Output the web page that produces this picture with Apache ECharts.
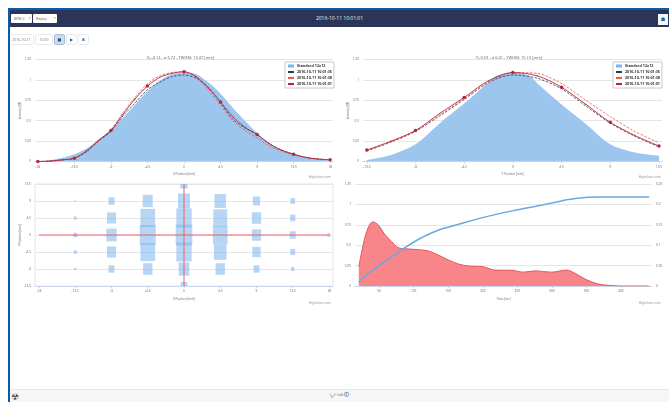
<!DOCTYPE html>
<html>
<head>
<meta charset="utf-8">
<title>2016-10-11 10:01:01</title>
<script src="https://cdn.jsdelivr.net/npm/echarts@6/dist/echarts.min.js"></script>
<style>
    html, body { margin: 0; padding: 0; background: #fff; overflow: hidden; }
    body { width: 669px; height: 402px; position: relative; font-family: "Open Sans", "Liberation Sans", sans-serif; }
    #chart { position: absolute; left: 0; top: 0; width: 669px; height: 402px; }
    .frame-top { position: absolute; left: 8px; top: 8px; right: 0; height: 2px; background: #0b5bab; }
    .frame-left { position: absolute; left: 8px; top: 8px; bottom: 0; width: 2px; background: #0b5bab; }
    .navbar { position: absolute; left: 10px; top: 10px; right: 0; height: 17px; background: #2a3557; }
    .navbar .title { position: absolute; left: 0; right: 0; top: 3px; text-align: center; color: #eef0f4; font-size: 5px; line-height: 10px; }
    .select { position: absolute; top: 4px; height: 9px; background: #fff; border-radius: 1px; color: #666; font-size: 3.5px; line-height: 9px; padding-left: 3px; box-sizing: border-box; }
    .select i { position: absolute; right: 1px; font-style: normal; font-size: 3px; }
    .home { position: absolute; right: 1px; top: 4px; width: 10px; height: 11px; background: #f4f6f8; color: #1c5f9e; font-family: "DejaVu Sans", sans-serif; font-size: 5px; line-height: 11px; text-align: center; }
    .ctrl { position: absolute; top: 34px; height: 11px; box-sizing: border-box; border: 1px solid #e8eaee; border-radius: 2px; font-size: 3.5px; line-height: 9px; color: #777; text-align: center; background: #fff; white-space: nowrap; overflow: hidden; }
    .ctrl.on { background: #cfdcec; border-color: #a9bed6; }
    .ctrl.btn { color: #23527c; font-size: 4px; font-family: "DejaVu Sans", sans-serif; }
    .footer { position: absolute; left: 10px; right: 0; top: 389px; bottom: 0; background: #f6f6f6; border-top: 1px solid #e7e7e7; }
    .footer .txt { position: absolute; left: 0; right: 0; top: 0; text-align: center; font-size: 3.6px; line-height: 8px; color: #777; }
    .footer .txt b { color: #1c6fb5; font-size: 5px; }
    .footer .rad { position: absolute; left: 0; top: 2px; width: 9px; text-align: center; font-size: 9px; line-height: 10px; color: #444; }
</style>
</head>
<body>
<div id="chart"></div>
<div class="frame-top"></div>
<div class="frame-left"></div>
<div class="navbar">
    <div class="select" style="left:1px;width:21px">BPM 2<i>&#9662;</i></div>
    <div class="select" style="left:23px;width:24px">Replay<i>&#9662;</i></div>
    <div class="title">2016-10-11 10:01:01</div>
    <div class="home">&#9751;</div>
</div>
<div class="ctrl" style="left:10px;width:24px;border-left:0">2016-10-11</div>
<div class="ctrl" style="left:35px;width:18px">10:00</div>
<div class="ctrl btn on" style="left:54px;width:11px">&#9632;</div>
<div class="ctrl btn" style="left:66px;width:11px">&#9654;</div>
<div class="ctrl btn" style="left:78px;width:11px">&#10006;</div>
<div class="footer">
    <div class="rad">&#9762;</div>
    <div class="txt">I<sub style="font-size:3px">N</sub> E (nA) <b>&#9432;</b></div>
</div>
<script>
const standardName = 'Standard 12x12';
const timeA = '2016-10-11 10:01:35';
const timeB = '2016-10-11 10:01:38';
const timeC = '2016-10-11 10:01:01';

// top left, X profile
const xStandard = [[-18,0],[-16.5,0.015],[-15,0.045],[-13.5,0.09],[-12,0.16],[-10.5,0.27],[-9,0.39],[-7.5,0.54],[-6,0.7],[-4.5,0.86],[-3,0.99],[-1.5,1.07],[0,1.09],[1.5,1.07],[3,0.97],[4.5,0.83],[6,0.66],[7.5,0.5],[9,0.35],[10.5,0.22],[12,0.14],[13.5,0.09],[15,0.05],[16.5,0.025],[18,0.01]];
const xSeriesA = [[-18,0],[-16.5,0.005],[-15,0.02],[-13.5,0.04],[-12,0.12],[-10.5,0.25],[-9,0.37],[-7.5,0.56],[-6,0.72],[-4.5,0.88],[-3,0.97],[-1.5,1.04],[0,1.06],[1.5,1.02],[3,0.91],[4.5,0.72],[6,0.52],[7.5,0.41],[9,0.33],[10.5,0.22],[12,0.14],[13.5,0.09],[15,0.05],[16.5,0.03],[18,0.02]];
const xSeriesB = [[-18,0],[-16.5,0.005],[-15,0.02],[-13.5,0.04],[-12,0.13],[-10.5,0.26],[-9,0.39],[-7.5,0.6],[-6,0.79],[-4.5,0.95],[-3,1.05],[-1.5,1.09],[0,1.1],[1.5,1.03],[3,0.87],[4.5,0.69],[6,0.5],[7.5,0.38],[9,0.29],[10.5,0.19],[12,0.13],[13.5,0.08],[15,0.05],[16.5,0.03],[18,0.02]];
const xSeriesC = [[-18,0],[-16.5,0.005],[-15,0.02],[-13.5,0.04],[-12,0.13],[-10.5,0.26],[-9,0.38],[-7.5,0.58],[-6,0.77],[-4.5,0.925],[-3,1.03],[-1.5,1.08],[0,1.1],[1.5,1.04],[3,0.9],[4.5,0.73],[6,0.55],[7.5,0.42],[9,0.33],[10.5,0.22],[12,0.14],[13.5,0.09],[15,0.05],[16.5,0.03],[18,0.02]];

// top right, Y profile
const yStandard = [[-13.5,0.02],[-11.25,0.08],[-9,0.21],[-6.75,0.47],[-4.5,0.71],[-2.25,0.97],[-1.5,1.05],[0,1.09],[1.5,1.05],[2.25,0.96],[4.5,0.7],[6.75,0.46],[9,0.21],[11.25,0.11],[13.5,0.07]];
const ySeriesA = [[-13.5,0.13],[-11.25,0.24],[-9,0.37],[-6.75,0.56],[-4.5,0.76],[-2.25,0.97],[0,1.06],[2.25,1.02],[4.5,0.89],[6.75,0.68],[9,0.47],[11.25,0.31],[13.5,0.18]];
const ySeriesB = [[-13.5,0.13],[-11.25,0.24],[-9,0.37],[-6.75,0.57],[-4.5,0.77],[-2.25,0.97],[0,1.09],[2.25,1.08],[4.5,0.955],[6.75,0.75],[9,0.55],[11.25,0.37],[13.5,0.23]];
const ySeriesC = [[-13.5,0.14],[-11.25,0.25],[-9,0.38],[-6.75,0.59],[-4.5,0.785],[-2.25,0.99],[0,1.09],[2.25,1.05],[4.5,0.91],[6.75,0.7],[9,0.48],[11.25,0.32],[13.5,0.19]];

// bottom left, beam cells: x, y, intensity
const cells = [
    [-13.5,9,4],[-13.5,4.5,8],[-13.5,0,11],[-13.5,-4.5,9],[-13.5,-9,6],
    [-9,9,18],[-9,4.5,27],[-9,0,31],[-9,-4.5,27],[-9,-9,18],
    [-4.5,9,30],[-4.5,4.5,44],[-4.5,0,48],[-4.5,-4.5,44],[-4.5,-9,28],
    [0,13.5,22],[0,9,36],[0,4.5,46],[0,0,50],[0,-4.5,46],[0,-9,32],[0,-13.5,20],
    [4.5,9,34],[4.5,4.5,42],[4.5,0,44],[4.5,-4.5,38],[4.5,-9,28],
    [9,9,22],[9,4.5,28],[9,0,28],[9,-4.5,25],[9,-9,18],
    [13.5,9,14],[13.5,4.5,16],[13.5,0,18],[13.5,-4.5,15],[13.5,-9,10],
    [18,0,9]
];
const crossH = [[-18,0],[18,0]];
const crossV = [[0,13.5],[0,-13.5]];

// bottom right, time traces
const integralTrace = [[20.5,0.045],[34,0.156],[58,0.3],[82,0.44],[106.5,0.57],[130.7,0.668],[145,0.71],[179,0.79],[203,0.844],[227,0.893],[251,0.934],[275.6,0.975],[300,1.016],[324,1.06],[348,1.086],[372,1.09],[400,1.09],[441,1.09]];
const currentTrace = [[20.5,0.0475],[29,0.117],[36,0.15],[41,0.157],[48.5,0.15],[58,0.127],[68,0.109],[77.5,0.094],[90,0.091],[106.5,0.089],[121,0.086],[135.5,0.076],[150,0.064],[164.5,0.054],[179,0.049],[200.7,0.047],[217.6,0.039],[242,0.0385],[258.7,0.034],[275.6,0.037],[300,0.034],[321.5,0.039],[333.6,0.031],[348,0.017],[367,0.005],[386.7,0.001],[400,0],[441,0]];

const xTicks = [-18, -13.5, -9, -4.5, 0, 4.5, 9, 13.5, 18];
const timeTicks = [50, 100, 150, 200, 250, 300, 350, 400];

const labelStyle = { fontSize: 3.2, color: '#666', margin: 4 };
const nameStyle = { fontSize: 3, color: '#666' };
const gridLine = { show: true, lineStyle: { color: '#e6e6e6', width: 1 } };
const axisLine = { show: true, lineStyle: { color: '#ccd6eb', width: 1 } };

function bottomAxis(gridIndex, min, max, ticks, title) {
    return {
        type: 'value', gridIndex, min, max,
        name: title, nameLocation: 'middle', nameGap: 11.5, nameMoveOverlap: false,
        nameTextStyle: nameStyle,
        axisLabel: { ...labelStyle, customValues: ticks },
        axisTick: { show: true, length: 2, lineStyle: { color: '#ccd6eb' }, customValues: ticks },
        axisLine: { ...axisLine, onZero: false },
        splitLine: { show: false }
    };
}

function leftAxis(gridIndex, title) {
    return {
        type: 'value', gridIndex, min: 0, max: 1.25, interval: 0.25,
        name: title, nameLocation: 'middle', nameGap: 13, nameRotate: 90, nameMoveOverlap: false,
        nameTextStyle: nameStyle,
        axisLabel: { ...labelStyle },
        axisTick: { show: false },
        axisLine: { show: false },
        splitLine: gridLine
    };
}

function profileSeries(index, standard, a, b, c) {
    const keyPoint = v => Math.abs(v / 4.5 - Math.round(v / 4.5)) < 0.001;
    return [
        {
            name: standardName, type: 'line', xAxisIndex: index, yAxisIndex: index, data: standard,
            smooth: 0.3, symbol: 'none', lineStyle: { width: 0 }, itemStyle: { color: '#7cb5ec' },
            areaStyle: { color: '#9dc6ef', opacity: 1 }
        },
        {
            name: timeA, type: 'line', xAxisIndex: index, yAxisIndex: index, data: a,
            smooth: 0.3, symbol: 'none', itemStyle: { color: '#2b3a55' },
            lineStyle: { color: '#2b3a55', width: 0.8, type: [2.5, 1.5] }
        },
        {
            name: timeB, type: 'line', xAxisIndex: index, yAxisIndex: index, data: b,
            smooth: 0.3, symbol: 'none', itemStyle: { color: '#ea5a4a' },
            lineStyle: { color: '#ea5a4a', width: 0.8, type: [2.5, 1.5] }
        },
        {
            name: timeC, type: 'line', xAxisIndex: index, yAxisIndex: index, data: c,
            smooth: 0.3, symbol: 'circle', itemStyle: { color: '#b2283c' },
            symbolSize: d => keyPoint(d[0]) ? 3.5 : 1.2,
            lineStyle: { color: '#b2283c', width: 0.9 }
        }
    ];
}

function profileLegend(left) {
    return {
        orient: 'vertical', left, top: 62, padding: [2, 2, 2, 2], itemGap: 2,
        itemWidth: 6, itemHeight: 3,
        backgroundColor: '#fff', borderColor: '#c8c8c8', borderWidth: 1,
        textStyle: { fontSize: 3.7, fontWeight: 'bold', color: '#333', padding: [0, 0, 0, -2] },
        data: [{ name: standardName, icon: 'rect' }, timeA, timeB, timeC]
    };
}

function credit(right, top) {
    return {
        type: 'text', right, top,
        style: { text: 'Highcharts.com', fontSize: 3.2, fill: '#999' }
    };
}

// rectangle per cell, cut at the plot edge like the top and bottom cells in the reference
function renderCell(params, api) {
    const center = api.coord([api.value(0), api.value(1)]);
    const w = api.value(2) / 3;
    const h = api.value(2) * 1.24 / 3;
    const shape = echarts.graphic.clipRectByRect(
        { x: center[0] - w / 2, y: center[1] - h / 2, width: w, height: h },
        params.coordSys
    );
    return shape && { type: 'rect', shape, style: { fill: '#7cb5ec', opacity: 0.55 } };
}

const chart = echarts.init(document.getElementById('chart'), null, { renderer: 'canvas' });

const titleStyle = { fontSize: 4, color: '#666', fontWeight: 'normal' };

const option = {
    animation: false,
    textStyle: { fontFamily: '"Open Sans", "Liberation Sans", sans-serif' },
    title: [
        { text: 'X\u2080 -0.12 - \u03c3 5.72 - FWHM: 13.47 [mm]', left: 175.5, top: 51, textAlign: 'center', textStyle: titleStyle },
        { text: 'Y\u2080 0.53 - \u03c3 6.41 - FWHM: 15.10 [mm]', left: 504, top: 51, textAlign: 'center', textStyle: titleStyle }
    ],
    legend: [profileLegend(285), profileLegend(613)],
    grid: [
        { left: 35, top: 59.5, width: 298, height: 102 },
        { left: 363, top: 59.5, width: 299, height: 102 },
        { left: 35, top: 184, width: 298, height: 102, show: true, borderColor: '#e6e6e6', borderWidth: 1 },
        { left: 355, top: 184, width: 297, height: 102 }
    ],
    xAxis: [
        bottomAxis(0, -18.35, 18.35, xTicks, 'X Position [mm]'),
        bottomAxis(1, -13.85, 13.78, xTicks.slice(1, 8), 'Y Position [mm]'),
        bottomAxis(2, -18.5, 18.5, xTicks, 'X Position [mm]'),
        bottomAxis(3, 15, 445, timeTicks, 'Time [ms]')
    ],
    yAxis: [
        leftAxis(0, 'Intensity [M]'),
        leftAxis(1, 'Intensity [M]'),
        {
            type: 'value', gridIndex: 2, min: -13.5, max: 13.5, interval: 4.5,
            name: 'Y Position [mm]', nameLocation: 'middle', nameGap: 13, nameRotate: 90, nameMoveOverlap: false,
            nameTextStyle: nameStyle,
            axisLabel: { ...labelStyle },
            axisTick: { show: false }, axisLine: { show: false, onZero: false },
            splitLine: gridLine
        },
        leftAxis(3, ''),
        {
            type: 'value', gridIndex: 3, position: 'right', min: 0, max: 0.25, interval: 0.05,
            axisLabel: { ...labelStyle },
            axisTick: { show: false }, axisLine: { show: false }, splitLine: { show: false }
        }
    ],
    series: [
        ...profileSeries(0, xStandard, xSeriesA, xSeriesB, xSeriesC),
        ...profileSeries(1, yStandard, ySeriesA, ySeriesB, ySeriesC),
        {
            type: 'custom', xAxisIndex: 2, yAxisIndex: 2, data: cells,
            renderItem: renderCell, encode: { x: 0, y: 1 }
        },
        {
            type: 'line', xAxisIndex: 2, yAxisIndex: 2, data: crossH, symbol: 'none',
            lineStyle: { color: '#e8656a', width: 1 }
        },
        {
            type: 'line', xAxisIndex: 2, yAxisIndex: 2, data: crossV, symbol: 'none',
            lineStyle: { color: '#e8656a', width: 1 }
        },
        {
            type: 'line', xAxisIndex: 3, yAxisIndex: 4, data: currentTrace, smooth: 0.3, symbol: 'none',
            lineStyle: { color: '#e4585d', width: 1 }, itemStyle: { color: '#e4585d' },
            areaStyle: { color: '#f7858a', opacity: 1 }
        },
        {
            type: 'line', xAxisIndex: 3, yAxisIndex: 3, data: integralTrace, smooth: 0.3, symbol: 'none',
            lineStyle: { color: '#6aa8e4', width: 1.5 }, itemStyle: { color: '#6aa8e4' }
        }
    ],
    graphic: [credit(338, 176), credit(8, 176), credit(338, 302), credit(8, 302)]
};

chart.setOption(option);
window.addEventListener('resize', () => chart.resize());
</script>
</body>
</html>
